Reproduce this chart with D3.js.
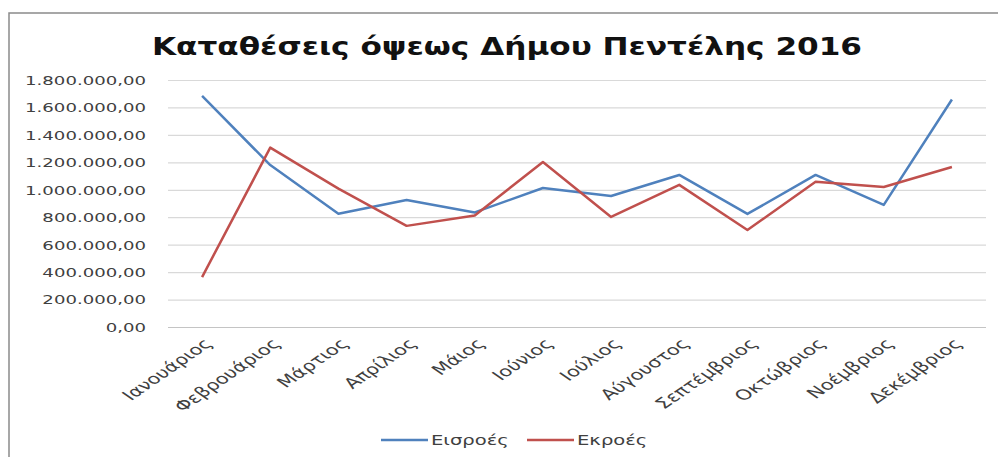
<!DOCTYPE html>
<html>
<head>
<meta charset="utf-8">
<script src="https://cdn.jsdelivr.net/npm/d3@7"></script>
<style>
  body { margin: 0; background: #fff; }
  text { font-family: "DejaVu Sans", sans-serif; }
</style>
</head>
<body>
<div id="chart"></div>
<script>
var Width = 998, Height = 457;

// data
var months = ["Ιανουάριος", "Φεβρουάριος", "Μάρτιος", "Απρίλιος", "Μάιος", "Ιούνιος",
              "Ιούλιος", "Αύγουστος", "Σεπτέμβριος", "Οκτώβριος", "Νοέμβριος", "Δεκέμβριος"];
var inflows  = [1684000, 1180000, 825000, 926000, 835000, 1013000, 955000, 1108000, 824000, 1108000, 890000, 1658000];
var outflows = [364000, 1307000, 1008000, 737000, 812000, 1203000, 802000, 1036000, 707000, 1058000, 1020000, 1166000];
var yTicks = [0, 200000, 400000, 600000, 800000, 1000000, 1200000, 1400000, 1600000, 1800000];
var seriesNames = ["Εισροές", "Εκροές"];

var margin = {top: 80, right: 12, bottom: 130, left: 168};
var plotBottom = 327;
var sx = 1.45; // the picture is stretched sideways, so is the text

var gr = d3.formatLocale({decimal: ",", thousands: ".", grouping: [3], currency: ["", "€"]});
var fmt = gr.format(",.2f");

var svg = d3.select("#chart").append("svg")
  .attr("width", Width)
  .attr("height", Height);

// chart frame
svg.append("rect")
  .attr("x", 9).attr("y", 13)
  .attr("width", 1000).attr("height", 500)
  .attr("fill", "#fff")
  .attr("stroke", "#8a8a8a")
  .attr("stroke-width", 1.5);

var x = d3.scaleBand()
  .domain(months)
  .range([margin.left, 986]);

var y = d3.scaleLinear()
  .domain([0, 1800000])
  .range([plotBottom, margin.top]);

// Y axis + gridlines
var yAxis = svg.append("g")
  .attr("transform", "translate(" + margin.left + ",0)")
  .call(d3.axisLeft(y).tickValues(yTicks).tickFormat(fmt).tickSize(-(986 - margin.left)));
yAxis.select(".domain").remove();
yAxis.selectAll(".tick line")
  .attr("stroke", function(d) { return d === 0 ? "#c4c4c4" : "#d9d9d9"; })
  .attr("stroke-width", 1.2);
yAxis.selectAll(".tick text")
  .attr("x", null)
  .attr("dy", "0.35em")
  .attr("transform", "translate(-22,0) scale(" + sx + ",1)")
  .attr("fill", "#404040")
  .style("font-size", "12.5px");

// X labels
svg.append("g")
  .selectAll("text")
  .data(months)
  .enter()
  .append("text")
    .attr("transform", function(d) {
      return "translate(" + (x(d) + x.bandwidth() / 2 + 6) + "," + (plotBottom + 14) + ") scale(" + sx + ",1) rotate(-45)";
    })
    .attr("text-anchor", "end")
    .attr("dy", "0.35em")
    .attr("fill", "#404040")
    .style("font-size", "14.5px")
    .text(function(d) { return d; });

// lines
var line = d3.line()
  .x(function(d, i) { return x(months[i]) + x.bandwidth() / 2; })
  .y(function(d) { return y(d); });

var color = d3.scaleOrdinal()
  .domain(seriesNames)
  .range(["#4F81BD", "#C0504D"]);

svg.append("path")
  .datum(inflows)
  .attr("d", line)
  .attr("fill", "none")
  .attr("stroke", color("Εισροές"))
  .attr("stroke-width", 2.5)
  .attr("stroke-linejoin", "round");

svg.append("path")
  .datum(outflows)
  .attr("d", line)
  .attr("fill", "none")
  .attr("stroke", color("Εκροές"))
  .attr("stroke-width", 2.5)
  .attr("stroke-linejoin", "round");

// title
svg.append("text")
  .attr("x", 152).attr("y", 55)
  .attr("textLength", 710)
  .attr("lengthAdjust", "spacingAndGlyphs")
  .style("font-size", "25px")
  .style("font-weight", "bold")
  .attr("fill", "#111")
  .text("Καταθέσεις όψεως Δήμου Πεντέλης 2016");

// Handmade legend
var legendX = [381, 527];
seriesNames.forEach(function(name, i) {
  svg.append("line")
    .attr("x1", legendX[i]).attr("x2", legendX[i] + 47)
    .attr("y1", 440).attr("y2", 440)
    .attr("stroke", color(name))
    .attr("stroke-width", 2.5);
  svg.append("text")
    .attr("transform", "translate(" + (legendX[i] + 50) + ",440) scale(" + sx + ",1)")
    .attr("dy", "0.35em")
    .attr("fill", "#404040")
    .style("font-size", "13.5px")
    .text(name);
});
</script>
</body>
</html>
